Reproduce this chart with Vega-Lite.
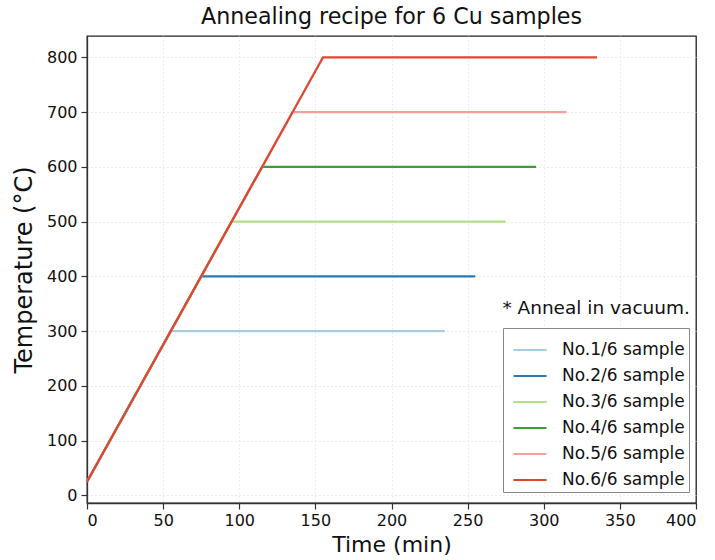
{
  "$schema": "https://vega.github.io/schema/vega-lite/v6.json",
  "autosize": {"type": "none"},
  "padding": {"left": 87, "top": 36, "right": 19, "bottom": 57},
  "width": 609,
  "height": 467,
  "background": "white",
  "config": {
    "font": "DejaVu Sans",
    "view": {"stroke": "#222", "strokeWidth": 1.3},
    "axis": {
      "domainColor": "#333",
      "domainWidth": 1.3,
      "tickColor": "#333",
      "tickSize": 6,
      "tickWidth": 1.2,
      "labelFont": "DejaVu Sans",
      "labelFontSize": 16,
      "labelColor": "#111",
      "titleFont": "DejaVu Sans",
      "titleFontSize": 22,
      "titleFontWeight": "normal",
      "titleColor": "#111",
      "gridColor": "#d8d8d8",
      "gridDash": [1, 3],
      "gridWidth": 1
    }
  },
  "title": {
    "text": "Annealing recipe for 6 Cu samples",
    "font": "DejaVu Sans",
    "fontSize": 22.2,
    "fontWeight": "normal",
    "color": "#111",
    "offset": 8
  },
  "data": {
    "values": [
      {"sample": "No.1/6 sample", "time": 0, "temp": 25},
      {"sample": "No.1/6 sample", "time": 55, "temp": 300},
      {"sample": "No.1/6 sample", "time": 235, "temp": 300},
      {"sample": "No.2/6 sample", "time": 0, "temp": 25},
      {"sample": "No.2/6 sample", "time": 75, "temp": 400},
      {"sample": "No.2/6 sample", "time": 255, "temp": 400},
      {"sample": "No.3/6 sample", "time": 0, "temp": 25},
      {"sample": "No.3/6 sample", "time": 95, "temp": 500},
      {"sample": "No.3/6 sample", "time": 275, "temp": 500},
      {"sample": "No.4/6 sample", "time": 0, "temp": 25},
      {"sample": "No.4/6 sample", "time": 115, "temp": 600},
      {"sample": "No.4/6 sample", "time": 295, "temp": 600},
      {"sample": "No.5/6 sample", "time": 0, "temp": 25},
      {"sample": "No.5/6 sample", "time": 135, "temp": 700},
      {"sample": "No.5/6 sample", "time": 315, "temp": 700},
      {"sample": "No.6/6 sample", "time": 0, "temp": 25},
      {"sample": "No.6/6 sample", "time": 155, "temp": 800},
      {"sample": "No.6/6 sample", "time": 335, "temp": 800}
    ]
  },
  "layer": [
    {
      "mark": {"type": "line", "strokeWidth": 2.2, "clip": true},
      "encoding": {
        "x": {
          "field": "time", "type": "quantitative",
          "scale": {"domain": [0, 400], "nice": false, "zero": false},
          "axis": {
            "values": [0, 50, 100, 150, 200, 250, 300, 350, 400],
            "title": "Time (min)", "titlePadding": 6, "labelPadding": 3,
            "gridOpacity": {"condition": {"test": "datum.value === 400 || datum.value === 0", "value": 0}, "value": 1}
          }
        },
        "y": {
          "field": "temp", "type": "quantitative",
          "scale": {"domain": [-14, 839], "nice": false, "zero": false},
          "axis": {"values": [0, 100, 200, 300, 400, 500, 600, 700, 800], "title": "Temperature (°C)", "titleFontSize": 24, "titlePadding": 10, "labelPadding": 4}
        },
        "color": {
          "field": "sample", "type": "nominal",
          "scale": {
            "domain": ["No.1/6 sample", "No.2/6 sample", "No.3/6 sample", "No.4/6 sample", "No.5/6 sample", "No.6/6 sample"],
            "range": ["#a6cee3", "#2a79b4", "#b2df8a", "#3a9e33", "#f99e9a", "#df4630"]
          },
          "legend": {
            "title": null,
            "orient": "none",
            "legendX": 416,
            "legendY": 292,
            "symbolType": "stroke",
            "symbolStrokeWidth": 2.2,
            "symbolSize": 1089,
            "symbolOffset": 5,
            "rowPadding": 0,
            "labelFont": "DejaVu Sans",
            "labelFontSize": 17,
            "labelColor": "#111",
            "labelOffset": 14,
            "strokeColor": "#888",
            "fillColor": "white",
            "padding": 4,
            "cornerRadius": 0
          }
        },
        "order": {"field": "time", "type": "quantitative"}
      }
    },
    {
      "data": {"values": [{"label": "* Anneal in vacuum.", "x": 396, "y": 343}]},
      "mark": {"type": "text", "align": "right", "baseline": "middle", "font": "DejaVu Sans", "fontSize": 18.5, "color": "#111"},
      "encoding": {
        "x": {"field": "x", "type": "quantitative"},
        "y": {"field": "y", "type": "quantitative"},
        "text": {"field": "label"}
      }
    }
  ]
}
